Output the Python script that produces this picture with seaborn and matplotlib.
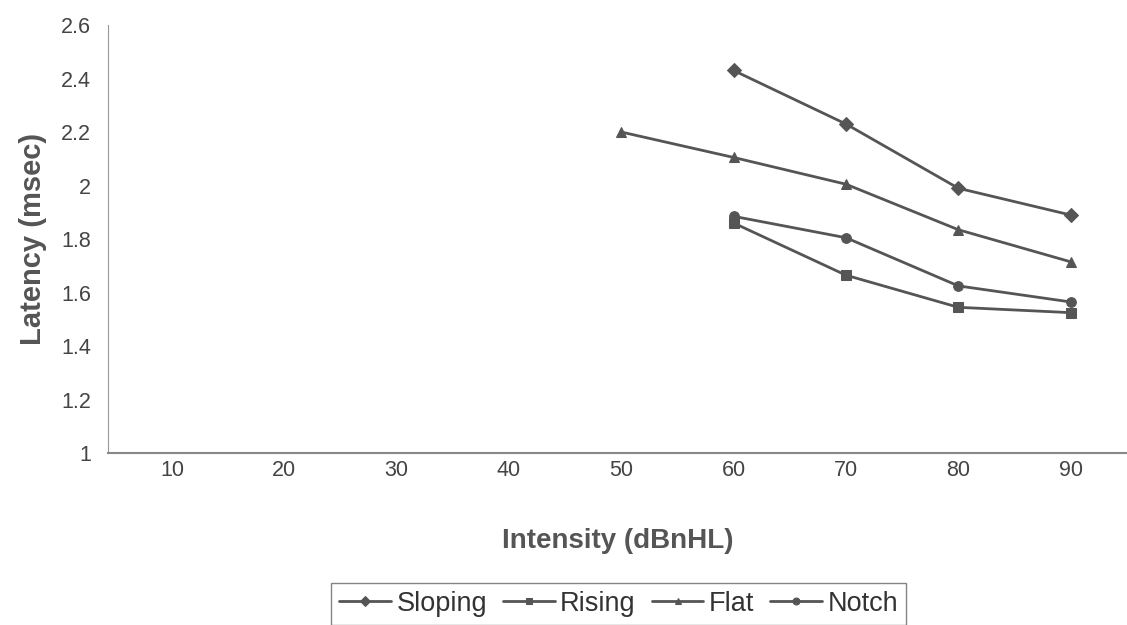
import pandas as pd
import seaborn as sns
import matplotlib.pyplot as plt

intensity = [50, 60, 70, 80, 90]
sloping = [None, 2.43, 2.23, 1.99, 1.89]
rising = [None, 1.86, 1.665, 1.545, 1.525]
flat = [2.20, 2.105, 2.005, 1.835, 1.715]
notch = [None, 1.885, 1.805, 1.625, 1.565]
x_ticks = [10, 20, 30, 40, 50, 60, 70, 80, 90]

df = pd.DataFrame({"Intensity": intensity, "Sloping": sloping, "Rising": rising,
                   "Flat": flat, "Notch": notch})
df_melted = pd.melt(df, id_vars="Intensity", var_name="Group", value_name="Latency").dropna()

sns.set_style("white")
plt.rcParams["font.family"] = ["Liberation Sans", "DejaVu Sans"]

col = "#555555"
fig = plt.figure(figsize=(11.27, 6.25), dpi=100)
ax = fig.add_axes([0.0958, 0.275, 0.904, 0.685])
sns.lineplot(data=df_melted, x="Intensity", y="Latency", hue="Group", style="Group",
             palette=[col] * 4, markers=["D", "s", "^", "o"], dashes=False,
             markersize=7, markeredgecolor=col, linewidth=2, ax=ax)

ax.set_xlim(4.3, 95)
ax.set_ylim(1, 2.6)
ax.set_xticks(x_ticks)
ax.set_xticks([15 + 10 * i for i in range(8)], minor=True)
ax.set_yticks([1 + 0.2 * i for i in range(9)])
ax.set_yticklabels(["1", "1.2", "1.4", "1.6", "1.8", "2", "2.2", "2.4", "2.6"])
ax.tick_params(axis="x", which="major", length=0, pad=5, labelsize=15.5, colors="#444444")
ax.tick_params(axis="x", which="minor", length=4, color="#999999", direction="out")
ax.tick_params(axis="y", length=5, color="#999999", direction="out", pad=7,
               labelsize=15.5, colors="#444444")

for s in ["top", "right"]:
    ax.spines[s].set_visible(False)
ax.spines["left"].set_color("#999999")
ax.spines["bottom"].set_color("#888888")
ax.spines["bottom"].set_linewidth(1.5)

ax.set_xlabel("Intensity (dBnHL)", fontsize=20, fontweight="bold", color="#555555", labelpad=34)
ax.set_ylabel("Latency (msec)", fontsize=21, fontweight="bold", color="#555555", labelpad=10)

handles, labels = ax.get_legend_handles_labels()
ax.get_legend().remove()
leg = fig.legend(handles, labels, loc="upper center", bbox_to_anchor=(0.549, 0.068), ncol=4,
                 frameon=True, fontsize=19.5, handlelength=1.9, handletextpad=0.2,
                 columnspacing=0.6, borderpad=0.3, borderaxespad=0, fancybox=False)
leg.get_frame().set_edgecolor("#666666")
for t in leg.get_texts():
    t.set_color("#333333")
for h in leg.legend_handles:
    h.set_markersize(5)

fig.savefig("out.png", dpi=100)
